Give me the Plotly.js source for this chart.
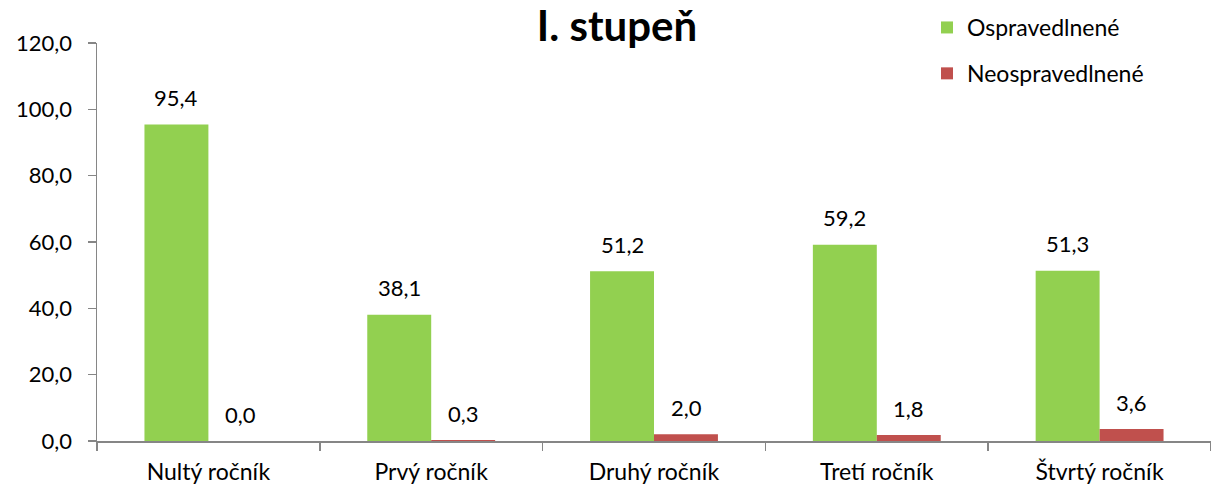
<!DOCTYPE html>
<html>
<head>
<meta charset="utf-8">
<script src="https://cdn.plot.ly/plotly-3.0.1.min.js"></script>
<style>html,body{margin:0;padding:0;background:#fff;}#chart{width:1211px;height:487px;}</style>
</head>
<body>
<div id="chart"></div>
<script>
const categories = ["Nultý ročník", "Prvý ročník", "Druhý ročník", "Tretí ročník", "Štvrtý ročník"];
const ospravedlnene = [95.4, 38.1, 51.2, 59.2, 51.3];
const neospravedlnene = [0.0, 0.3, 2.0, 1.8, 3.6];
const seriesNames = ["Ospravedlnené", "Neospravedlnené"];
const yTicks = [0, 20, 40, 60, 80, 100, 120];

const FONT = "Lato, 'Open Sans', sans-serif";

const traces = [
  {
    type: "bar", x: categories, y: ospravedlnene, name: seriesNames[0],
    marker: {color: "#92D050"}, legendgroup: "a", hoverinfo: "none"
  },
  {
    type: "bar", x: categories, y: neospravedlnene, name: seriesNames[1],
    marker: {color: "#C0504D"}, legendgroup: "b", hoverinfo: "none"
  }
];

const fmt = v => v.toFixed(1).replace(".", ",");
const annotations = [];
[ospravedlnene, neospravedlnene].forEach((series, si) => {
  series.forEach((v, i) => {
    annotations.push({
      x: categories[i], y: v, xref: "x", yref: "y",
      text: fmt(v), showarrow: false,
      xanchor: "center", yanchor: "middle",
      xshift: si === 0 ? -32 : 32, yshift: 27,
      font: {family: FONT, size: 22, color: "#000"}
    });
  });
});

const layout = {
  width: 1211, height: 487,
  margin: {l: 97, r: 0, t: 43, b: 46, pad: 0},
  separators: ", ",
  font: {family: FONT, size: 22, color: "#000"},
  paper_bgcolor: "#fff", plot_bgcolor: "#fff",
  barmode: "group", bargap: 0.426, bargroupgap: 0,
  title: {text: "<b>I. stupeň</b>", font: {family: FONT, size: 42, color: "#000"},
          x: 617/1211, xanchor: "center", xref: "container", y: 1 - 26/487, yanchor: "middle", yref: "container"},
  annotations: annotations,
  xaxis: {
    type: "category", range: [-0.5, 4.5], tickson: "boundaries",
    ticks: "outside", ticklen: 8, tickcolor: "#868686", tickwidth: 1.5,
    showline: true, linecolor: "#868686", linewidth: 1.5,
    showgrid: false, zeroline: false, ticklabelstandoff: 10,
    tickfont: {family: FONT, size: 23, color: "#000"}
  },
  yaxis: {
    range: [0, 120], tickvals: yTicks, tickformat: ".1f",
    ticks: "outside", ticklen: 8, tickcolor: "#868686", tickwidth: 1.5,
    showline: true, linecolor: "#868686", linewidth: 1.5,
    showgrid: false, zeroline: false, ticklabelstandoff: 11,
    tickfont: {family: FONT, size: 22, color: "#000"}
  },
  showlegend: true,
  legend: {
    x: (927-97)/1114, xanchor: "left", y: 1 + 37/398, yanchor: "top", yref: "paper",
    font: {family: FONT, size: 23, color: "#000"},
    traceorder: "grouped", tracegroupgap: 13,
    bgcolor: "rgba(0,0,0,0)", itemwidth: 30
  }
};

Plotly.newPlot("chart", traces, layout, {displayModeBar: false, staticPlot: true});
</script>
</body>
</html>
